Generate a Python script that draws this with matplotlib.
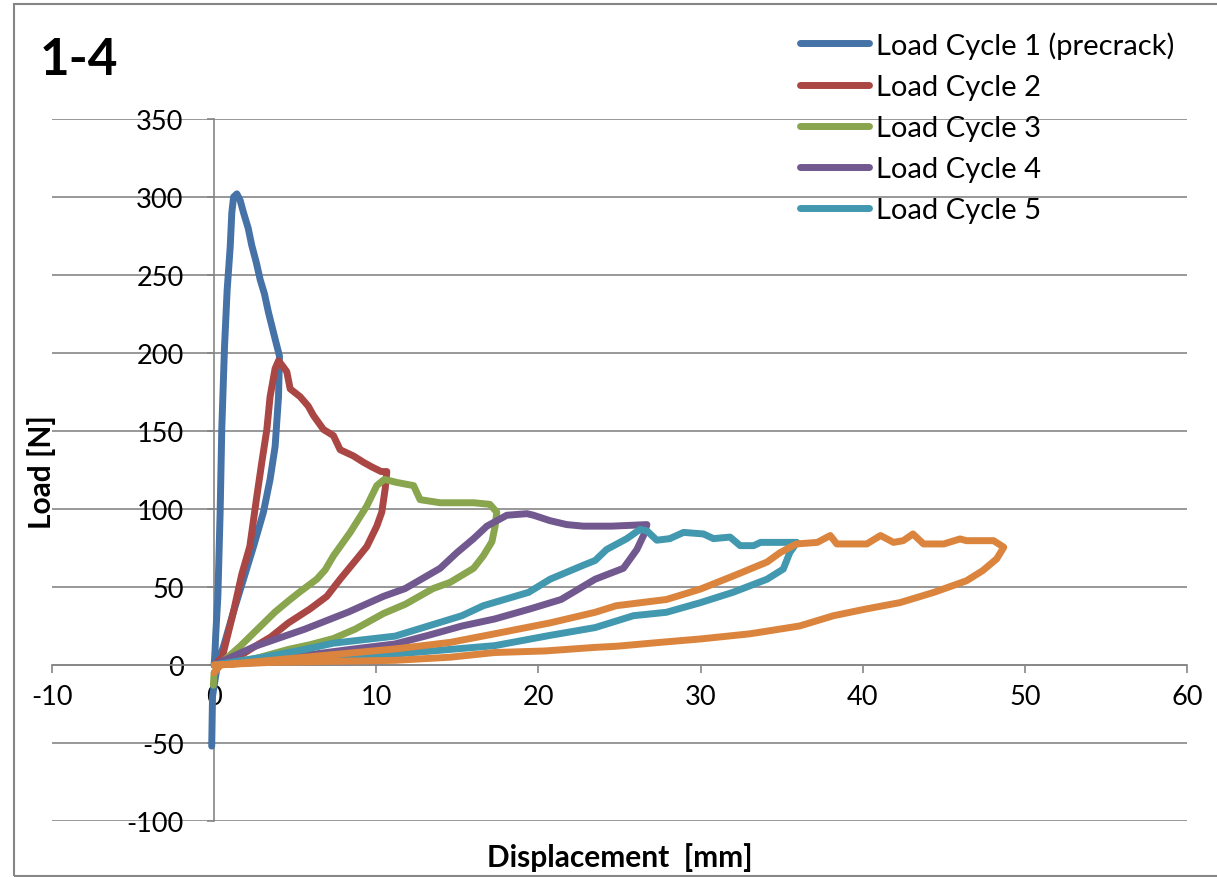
import matplotlib
matplotlib.use("Agg")
import matplotlib.pyplot as plt
from matplotlib.patches import Rectangle

plt.rcParams["font.family"] = ["Lato", "DejaVu Sans"]
plt.rcParams["axes.unicode_minus"] = False

# load cycles: displacement [mm], load [N]
cycle1_x = [0.0, 0.06, 0.1, 0.23, 0.37, 0.47, 0.64, 0.8, 0.99, 1.09, 1.2, 1.4, 1.6, 1.81,
            2.1, 2.32, 2.6, 2.84, 3.1, 3.35, 3.76, 4.03, 3.97, 3.76, 3.45, 3.04, 2.43,
            1.81, 1.19, 0.58, 0.2, -0.1, -0.15]
cycle1_y = [0, 10, 20, 44, 98, 151, 204, 240, 268, 290, 300, 302, 298, 290,
            280, 269, 258, 247, 238, 226, 209, 198, 172, 140, 119, 98, 76,
            55, 34, 12, 0, -20, -52]

cycle2_x = [0.0, 0.5, 1.19, 1.7, 2.2, 2.63, 2.94, 3.25, 3.45, 3.76, 3.97, 4.2, 4.48, 4.69,
            5.3, 5.8, 6.12, 6.74, 7.36, 7.77, 8.59, 9.2, 9.72, 10.3, 10.65, 10.55,
            10.34, 10.03, 9.42, 8.8, 7.77, 6.95, 5.92, 4.58, 3.5, 2.53, 1.0, 0.0]
cycle2_y = [0, 5, 34, 58, 76, 108, 130, 151, 172, 190, 195, 192, 188, 177,
            172, 166, 160, 151, 147, 138, 134, 130, 127, 124, 124, 113,
            98, 89, 76, 68, 55, 44, 36, 27, 18, 12, 2, 0]

cycle3_x = [-0.05, 0.0, 0.3, 1.6, 3.76, 4.69, 5.3, 6.33, 6.85, 7.36, 8.39, 9.42, 10.03,
            10.5, 11.27, 12.3, 12.7, 13.94, 15.17, 16.0, 17.0, 17.43, 17.33, 17.13,
            16.6, 16.0, 14.56, 13.5, 11.8, 10.44, 8.7, 7.36, 5.92, 4.58, 2.5, 0.0]
cycle3_y = [-13, -5, 0, 12, 34, 42, 47, 55, 61, 70, 85, 102, 115,
            119, 117, 115, 106, 104, 104, 104, 103, 98, 89, 79,
            70, 62, 53, 49, 39, 33, 23, 17, 13, 10, 4, 0]

cycle4_x = [0.0, 2.53, 5.6, 8.29, 10.44, 11.78, 13.94, 14.97, 16.0, 16.82, 18.05, 19.29,
            19.7, 20.72, 21.75, 22.78, 24.5, 26.69, 26.48, 26.07, 25.24, 23.5, 21.4,
            19.5, 17.3, 15.28, 13.2, 11.16, 8.4, 4.0, 0.0]
cycle4_y = [0, 12, 23, 34, 44, 49, 62, 72, 81, 89, 96, 97,
            96, 92.5, 90, 89, 89, 90, 83, 74, 62, 55, 42,
            36, 29.5, 25, 19, 13.5, 10, 4, 0]

cycle5_x = [0.0, 3.0, 5.6, 7.36, 11.16, 15.28, 16.6, 19.4, 20.72, 22.78, 23.5, 24.2,
            25.45, 26.27, 26.69, 27.3, 28.1, 28.95, 30.18, 30.8, 31.82, 32.44, 33.27,
            33.7, 35.94, 35.5, 35.1, 34.1, 32.0, 30.0, 27.9, 25.86, 23.5, 20.72,
            17.3, 14.56, 11.16, 5.0, 0.0]
cycle5_y = [0, 5, 10, 14, 18.5, 31.6, 38, 46.6, 55, 64, 67, 74,
            81, 87, 86, 80, 81, 85, 84, 81, 82, 76.5, 76.5,
            78.6, 78.6, 72, 61.5, 55, 46.6, 40, 33.8, 31.6, 24, 19,
            12.4, 10, 7, 3, 0]

cycle6_x = [0.0, 0.4, 5.6, 11.16, 14.56, 17.3, 20.72, 23.5, 24.8, 27.9, 30.0, 32.0, 34.1,
            34.9, 35.9, 37.2, 38.0, 38.4, 40.25, 41.1, 41.9, 42.5, 43.1, 43.75, 45.0,
            46.0, 46.4, 48.07, 48.7, 48.26, 47.4, 46.4, 44.4, 42.3, 40.25, 38.2, 36.1,
            33.05, 30.0, 27.5, 24.8, 23.5, 20.4, 17.3, 14.56, 11.16, 3.56, 0.0]
cycle6_y = [-5, 0, 5, 10.3, 14.5, 20, 27, 33.8, 38, 42, 48.7, 57, 66,
            72, 77.6, 78.6, 83, 77.6, 77.6, 83, 78.6, 79.7, 84, 77.6, 77.6,
            80.8, 79.7, 79.7, 75.5, 68, 60.5, 54, 46.6, 40, 36, 31.6, 25,
            20, 16.7, 14.5, 12, 11.3, 9, 8, 5, 3, 1.7, 0]

labels = ["Load Cycle 1 (precrack)", "Load Cycle 2", "Load Cycle 3",
          "Load Cycle 4", "Load Cycle 5"]
colors = ["#4572A7", "#AA4643", "#89A54E", "#71588F", "#4198AF", "#DB843D"]
GREY = "#868686"


def main() -> None:
    fig = plt.figure(figsize=(12.17, 8.78), dpi=100)
    ax = fig.add_axes([52 / 1217, 1 - 822 / 878, 1135 / 1217, 702 / 878])

    series = [(cycle1_x, cycle1_y), (cycle2_x, cycle2_y), (cycle3_x, cycle3_y),
              (cycle4_x, cycle4_y), (cycle5_x, cycle5_y), (cycle6_x, cycle6_y)]
    handles = []
    for i, (xs, ys) in enumerate(series):
        (line,) = ax.plot(xs, ys, color=colors[i], linewidth=5.0,
                          solid_capstyle="round", solid_joinstyle="round", zorder=3 + i)
        handles.append(line)

    ax.set_xlim(-10, 60)
    ax.set_ylim(-100, 350)
    ax.set_xticks(range(-10, 61, 10))
    ax.set_yticks(range(-100, 351, 50))

    ax.grid(axis="y", color=GREY, linewidth=1.2)
    ax.grid(axis="x", visible=False)
    ax.set_axisbelow(True)

    ax.spines["top"].set_visible(False)
    ax.spines["right"].set_visible(False)
    ax.spines["left"].set_position(("data", 0))
    ax.spines["bottom"].set_position(("data", 0))
    for side in ("left", "bottom"):
        ax.spines[side].set_color(GREY)
        ax.spines[side].set_linewidth(1.2)
        ax.spines[side].set_zorder(2)
    ax.tick_params(axis="x", direction="out", length=6, width=1.2, color=GREY,
                   labelsize=19.5, pad=8)
    ax.tick_params(axis="y", direction="out", length=5, width=1.2, color=GREY,
                   labelsize=19.5, pad=17)

    fig.text(620 / 1217, 1 - 858 / 878, "Displacement  [mm]", ha="center", va="center",
             fontsize=21.5, fontweight="bold")
    fig.text(42 / 1217, 1 - 472 / 878, "Load [N]", ha="center", va="center",
             rotation=90, fontsize=21.5, fontweight="bold")
    fig.text(40 / 1217, 1 - 75 / 878, "1-4", ha="left", va="baseline",
             fontsize=37, fontweight="bold")

    ax.legend(handles[:5], labels, loc="upper left",
              bbox_to_anchor=(800 / 1217, 1 - 32 / 878), bbox_transform=fig.transFigure,
              frameon=False, fontsize=21, borderpad=0, borderaxespad=0,
              handlelength=2.35, handletextpad=0.24, labelspacing=0.52)

    fig.add_artist(Rectangle((14 / 1217, 1 / 878), 1.1, 1 - 6 / 878,
                             transform=fig.transFigure, fill=False,
                             edgecolor=GREY, linewidth=1.5))

    fig.savefig("out.png", dpi=100)
    plt.close(fig)


if __name__ == "__main__":
    main()
